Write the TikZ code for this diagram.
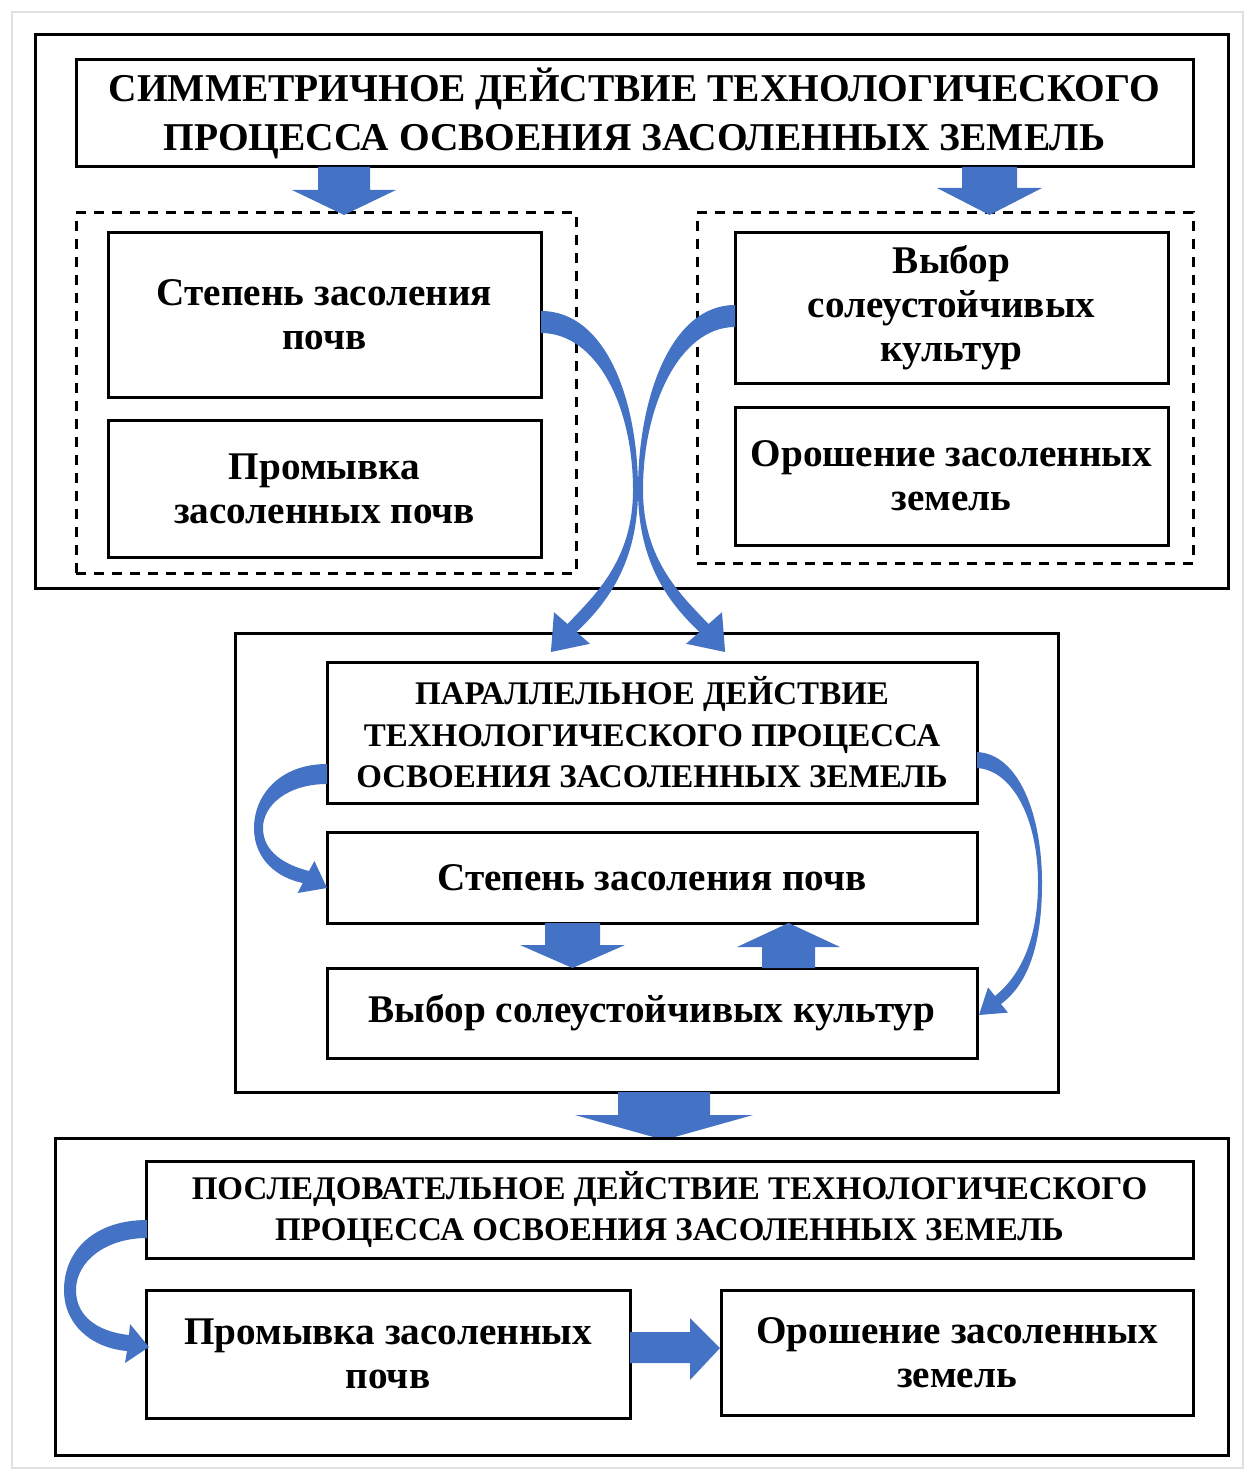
\documentclass[tikz,border=0pt]{standalone}
\usepackage{fontspec}
\setmainfont{Liberation Serif}
\usetikzlibrary{calc}
\definecolor{arrblue}{HTML}{4472C4}
\newcommand\vblk[6]{\fill[arrblue] ({#1-#4},#2) -- ({#1+#4},#2) -- ({#1+#4},#3) -- ({#1+#5},#3) -- (#1,#6) -- ({#1-#5},#3) -- ({#1-#4},#3) -- cycle;}
\begin{document}
\begin{tikzpicture}[x=0.5pt,y=-0.5pt,
  box/.style={draw=black, line width=1.5pt, inner sep=0pt, align=center, font=\bfseries\fontsize{19.6}{22}\selectfont},
  ttl/.style={box, font=\bfseries\fontsize{19.7}{24.5}\selectfont},
  ttls/.style={box, font=\bfseries\fontsize{16.5}{20.75}\selectfont},
  frame/.style={draw=black, line width=1.5pt, inner sep=0pt},
  dbox/.style={draw=black, line width=1.5pt, dash pattern=on 5pt off 4pt, inner sep=0pt},
  curv/.style={fill=arrblue}]
\useasboundingbox (0,0) rectangle (1251,1476);
\draw[black!12, line width=1.2pt] (12,12) rectangle (1243,1468);

% ---------- block 1 ----------
\node[frame, minimum width=596.5pt, minimum height=276.5pt] (O1) at (631.5,311.5) {};
\node[ttl, minimum width=558.5pt, minimum height=53.5pt] (t1) at (634.5,113.5)
  {СИММЕТРИЧНОЕ ДЕЙСТВИЕ ТЕХНОЛОГИЧЕСКОГО\\ПРОЦЕССА ОСВОЕНИЯ ЗАСОЛЕННЫХ ЗЕМЕЛЬ};
\node[dbox, minimum width=250pt, minimum height=180pt] (D1) at (326,393) {};
\node[dbox, minimum width=248pt, minimum height=175pt] (D2) at (945,388) {};
\node[box, minimum width=216.5pt, minimum height=82pt] (a1) at (324.5,315) {Степень засоления\\почв};
\node[box, minimum width=216.5pt, minimum height=68.5pt] (a2) at (324.5,488.5) {Промывка\\засоленных почв};
\node[box, minimum width=216.5pt, minimum height=75pt] (b1) at (951.5,308) {Выбор\\солеустойчивых\\культур};
\node[box, minimum width=216.5pt, minimum height=69pt] (b2) at (951.5,476) {Орошение засоленных\\земель};

\vblk{344}{167}{190}{26}{52}{215}
\vblk{989.5}{167}{188}{27.5}{52.5}{215}

% ---------- block 2 ----------
\node[frame, minimum width=411.5pt, minimum height=229.5pt] (O2) at (646.5,862.5) {};
\node[ttls, minimum width=325pt, minimum height=70.5pt] (t2) at (652,732.5)
  {ПАРАЛЛЕЛЬНОЕ ДЕЙСТВИЕ\\ТЕХНОЛОГИЧЕСКОГО ПРОЦЕССА\\ОСВОЕНИЯ ЗАСОЛЕННЫХ ЗЕМЕЛЬ};
\node[box, minimum width=325pt, minimum height=45.5pt] (c1) at (652,877.5) {Степень засоления почв};
\node[box, minimum width=325pt, minimum height=45pt] (c2) at (652,1013) {Выбор солеустойчивых культур};

\vblk{572.5}{923}{945}{27.5}{52.5}{968}
\vblk{788.5}{968}{947}{26.5}{51.5}{923}
\vblk{664}{1092}{1115}{46}{89}{1140}

% ---------- block 3 ----------
\node[frame, minimum width=586.5pt, minimum height=158.5pt] (O3) at (641.5,1296.5) {};
\node[ttls, minimum width=523.5pt, minimum height=48.5pt] (t3) at (669.5,1209.5)
  {ПОСЛЕДОВАТЕЛЬНОЕ ДЕЙСТВИЕ ТЕХНОЛОГИЧЕСКОГО\\ПРОЦЕССА ОСВОЕНИЯ ЗАСОЛЕННЫХ ЗЕМЕЛЬ};
\node[box, minimum width=242pt, minimum height=64pt] (d1) at (388,1354) {Промывка засоленных\\почв};
\node[box, minimum width=236pt, minimum height=62.5pt] (d2) at (957,1352.5) {Орошение засоленных\\земель};

\fill[arrblue] (630,1332) -- (690,1332) -- (690,1318) -- (720,1348) -- (690,1380) -- (690,1363) -- (630,1363) -- cycle;

% ---------- curved arrows ----------
% a1 -> block 2
\fill[curv] (541,311) .. controls (606,311) and (638,400) .. (638,490)
  .. controls (638,565) and (605,605) .. (576.5,632) -- (590,643.8) -- (550.9,652) -- (554,612.2) -- (567.5,624)
  .. controls (595,595) and (633,560) .. (633,490)
  .. controls (633,405) and (596,333) .. (541,333) -- cycle;
% b1 -> block 2
\fill[curv] (735,305) .. controls (670,305) and (638,400) .. (638,490)
  .. controls (638,565) and (671,605) .. (699.5,632) -- (686,643.8) -- (725.1,652) -- (722,612.2) -- (708.5,624)
  .. controls (681,595) and (643,560) .. (643,490)
  .. controls (643,405) and (680,327) .. (735,327) -- cycle;
% t2 -> c1
\fill[curv] (327,764) .. controls (280,764) and (254,795) .. (254,828)
  .. controls (254,860) and (278,878) .. (302.8,883) -- (297.6,893) -- (327,888) -- (314.4,861) -- (309,871)
  .. controls (285,865) and (263,852) .. (263,828)
  .. controls (263,805) and (288,784) .. (327,784) -- cycle;
% t2 -> c2
\fill[curv] (977,752) .. controls (1019,754) and (1042,815) .. (1042,883)
  .. controls (1042,945) and (1028,984) .. (1001,1004) -- (1008,1012.6) -- (979,1015) -- (988,987.4) -- (995,996)
  .. controls (1020,976) and (1038,940) .. (1038,883)
  .. controls (1038,818) and (1012,770) .. (977,768) -- cycle;
% t3 -> d1
\fill[curv] (147,1220) .. controls (95,1220) and (64,1250) .. (64,1290)
  .. controls (64,1325) and (92,1348) .. (127,1351) -- (125,1363) -- (149,1347) -- (130,1324) -- (129,1335)
  .. controls (100,1332) and (76,1318) .. (76,1290)
  .. controls (76,1262) and (105,1238) .. (147,1238) -- cycle;
\end{tikzpicture}
\end{document}
